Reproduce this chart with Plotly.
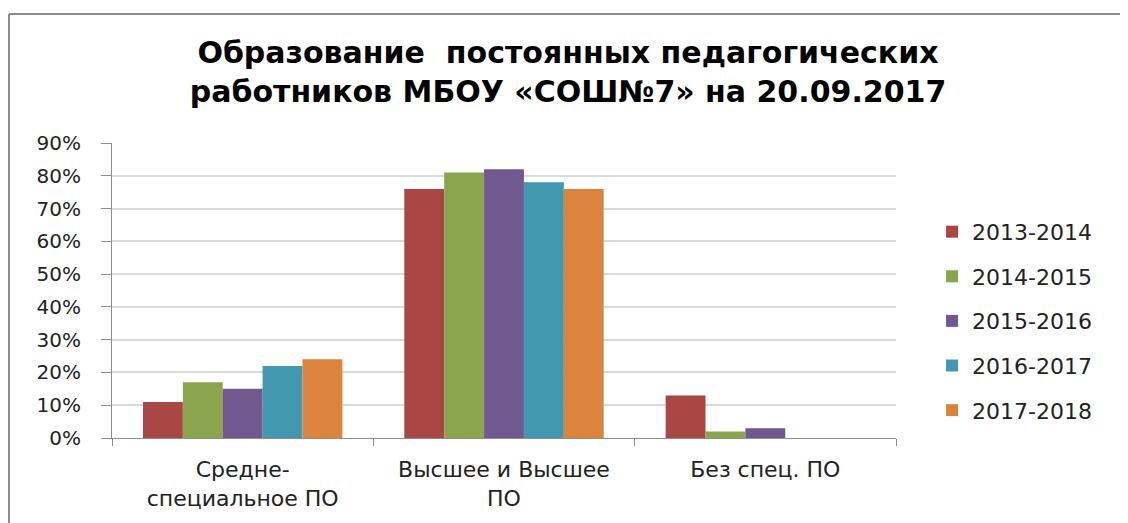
import plotly.graph_objects as go

categories = ["Средне-<br>специальное ПО", "Высшее и Высшее<br>ПО", "Без спец. ПО"]
years = ["2013-2014", "2014-2015", "2015-2016", "2016-2017", "2017-2018"]
v_2013 = [0.11, 0.76, 0.13]
v_2014 = [0.17, 0.81, 0.02]
v_2015 = [0.15, 0.82, 0.03]
v_2016 = [0.22, 0.78, 0.0]
v_2017 = [0.24, 0.76, 0.0]
y_ticks = [0.0, 0.1, 0.2, 0.3, 0.4, 0.5, 0.6, 0.7, 0.8, 0.9]

series = [v_2013, v_2014, v_2015, v_2016, v_2017]
colors = ["#A94744", "#8BA54E", "#71588F", "#4198AF", "#DB843D"]

fig = go.Figure()
for name, vals, col in zip(years, series, colors):
  fig.add_trace(go.Bar(x=categories, y=vals, name=name, legendgroup=name,
                       marker=dict(color=col, line=dict(width=0))))

# page body adds an 8px offset, so the figure is 8px smaller than the window
fig.update_layout(
  width=1120, height=515,
  margin=dict(l=104, r=232, t=135, b=83),
  paper_bgcolor="white", plot_bgcolor="white",
  barmode="group", bargap=0.237, bargroupgap=0,
  title=dict(text="Образование  постоянных педагогических<br>работников МБОУ «СОШ№7» на 20.09.2017",
             x=0.5, xref="container", xanchor="center", y=0.893, yanchor="top",
             font=dict(family="DejaVu Sans", size=30, color="black", weight="bold")),
  legend=dict(x=1.046, xanchor="left", y=0.397, yanchor="middle",
              font=dict(family="DejaVu Sans", size=22, color="#222"),
              tracegroupgap=13, itemwidth=30),
  showlegend=True,
)

fig.update_yaxes(range=[0, 0.9], tickvals=y_ticks, tickformat=".0%",
                 showgrid=True, gridcolor="#D9D9D9", gridwidth=1.5,
                 showline=True, linecolor="#8C8C8C", linewidth=1,
                 ticks="outside", ticklen=10, tickcolor="#8C8C8C", ticklabelstandoff=16,
                 tickfont=dict(family="DejaVu Sans", size=20, color="#222"),
                 zeroline=False)
fig.update_xaxes(showline=True, linecolor="#8C8C8C", linewidth=1,
                 ticks="outside", ticklen=7, tickcolor="#8C8C8C", tickson="boundaries",
                 ticklabelstandoff=12,
                 tickfont=dict(family="DejaVu Sans", size=22, color="#222"))

# outer chart border (top and left edges visible)
fig.add_shape(type="line", xref="paper", yref="paper", x0=-0.1314, x1=1.31, y0=1.4377, y1=1.4377,
              line=dict(color="#8C8C8C", width=2))
fig.add_shape(type="line", xref="paper", yref="paper", x0=-0.1314, x1=-0.1314, y0=1.4377, y1=-0.31,
              line=dict(color="#8C8C8C", width=2))

fig.write_html("out.html")
